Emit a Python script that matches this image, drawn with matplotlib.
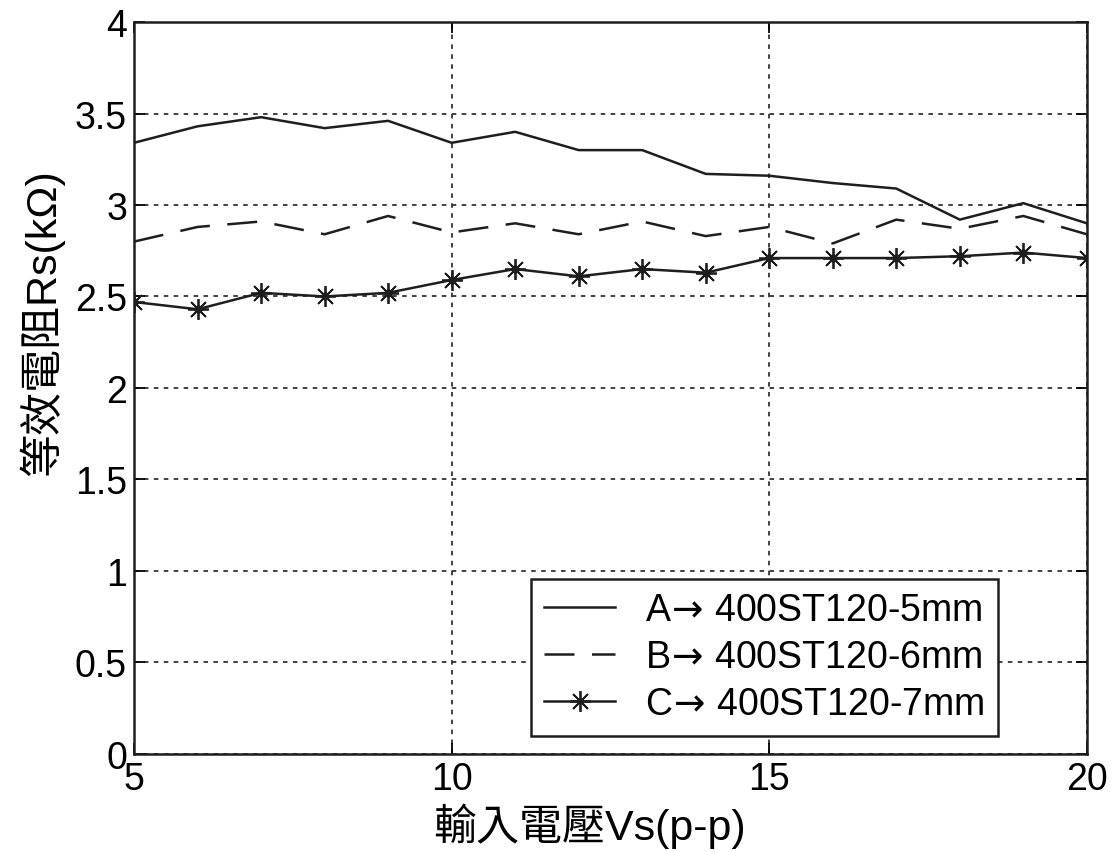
import matplotlib.pyplot as plt
import numpy as np

plt.rcParams['font.family'] = ['Liberation Sans', 'Noto Sans CJK TC', 'DejaVu Sans']

vs = [5, 6, 7, 8, 9, 10, 11, 12, 13, 14, 15, 16, 17, 18, 19, 20]
rs_a = [3.34, 3.43, 3.48, 3.42, 3.46, 3.34, 3.40, 3.30, 3.30, 3.17, 3.16, 3.12, 3.09, 2.92, 3.01, 2.90]
rs_b = [2.80, 2.88, 2.91, 2.84, 2.94, 2.85, 2.90, 2.84, 2.91, 2.83, 2.88, 2.79, 2.92, 2.87, 2.94, 2.84]
rs_c = [2.47, 2.43, 2.52, 2.50, 2.52, 2.59, 2.65, 2.61, 2.65, 2.63, 2.71, 2.71, 2.71, 2.72, 2.74, 2.71]
labels = ['A$\\!\\rightarrow\\!$ 400ST120-5mm', 'B$\\!\\rightarrow\\!$ 400ST120-6mm',
          'C$\\!\\rightarrow\\!$ 400ST120-7mm']

fig = plt.figure(figsize=(11.17, 8.53), dpi=100)
ax = fig.add_axes([0.120, 0.115, 0.853, 0.858])

ink = '#1e1e1e'
ax.plot(vs, rs_a, '-', color=ink, lw=1.8, label=labels[0])
ax.plot(vs, rs_b, '--', color=ink, lw=1.8, dashes=(12, 7), label=labels[1])
ax.plot(vs, rs_c, '-', color=ink, lw=1.8, marker=(8, 2, 0), markersize=15,
        markeredgewidth=1.3, label=labels[2])
# filled centre of the asterisk markers
ax.plot(vs, rs_c, ls='none', marker='o', color=ink, markersize=5)

ax.set_xlim(5, 20)
ax.set_ylim(0, 4)
ax.set_xticks([5, 10, 15, 20])
ax.set_yticks(np.arange(0, 4.01, 0.5))
ax.set_yticklabels(['0', '0.5', '1', '1.5', '2', '2.5', '3', '3.5', '4'])
ax.grid(True, color='#333333', linestyle=(0, (2.5, 3)), lw=1.3)
ax.tick_params(direction='in', top=True, right=True, labelsize=27, length=8, width=1.3, pad=5)
for s in ax.spines.values():
    s.set_linewidth(1.8)
    s.set_color(ink)

ax.set_xlabel('輸入電壓Vs(p-p)', fontsize=31, labelpad=4, x=0.478)
ax.set_ylabel('等效電阻Rs(kΩ)', fontsize=31, labelpad=8, y=0.59)

leg = ax.legend(loc='lower right', bbox_to_anchor=(0.907, 0.025), fontsize=27,
                numpoints=1, fancybox=False, framealpha=1, edgecolor=ink,
                handlelength=1.9, borderpad=0.35, labelspacing=0.3, handletextpad=0.8,
                borderaxespad=0)
leg.get_frame().set_linewidth(1.8)

fig.savefig('out.png', dpi=100)
